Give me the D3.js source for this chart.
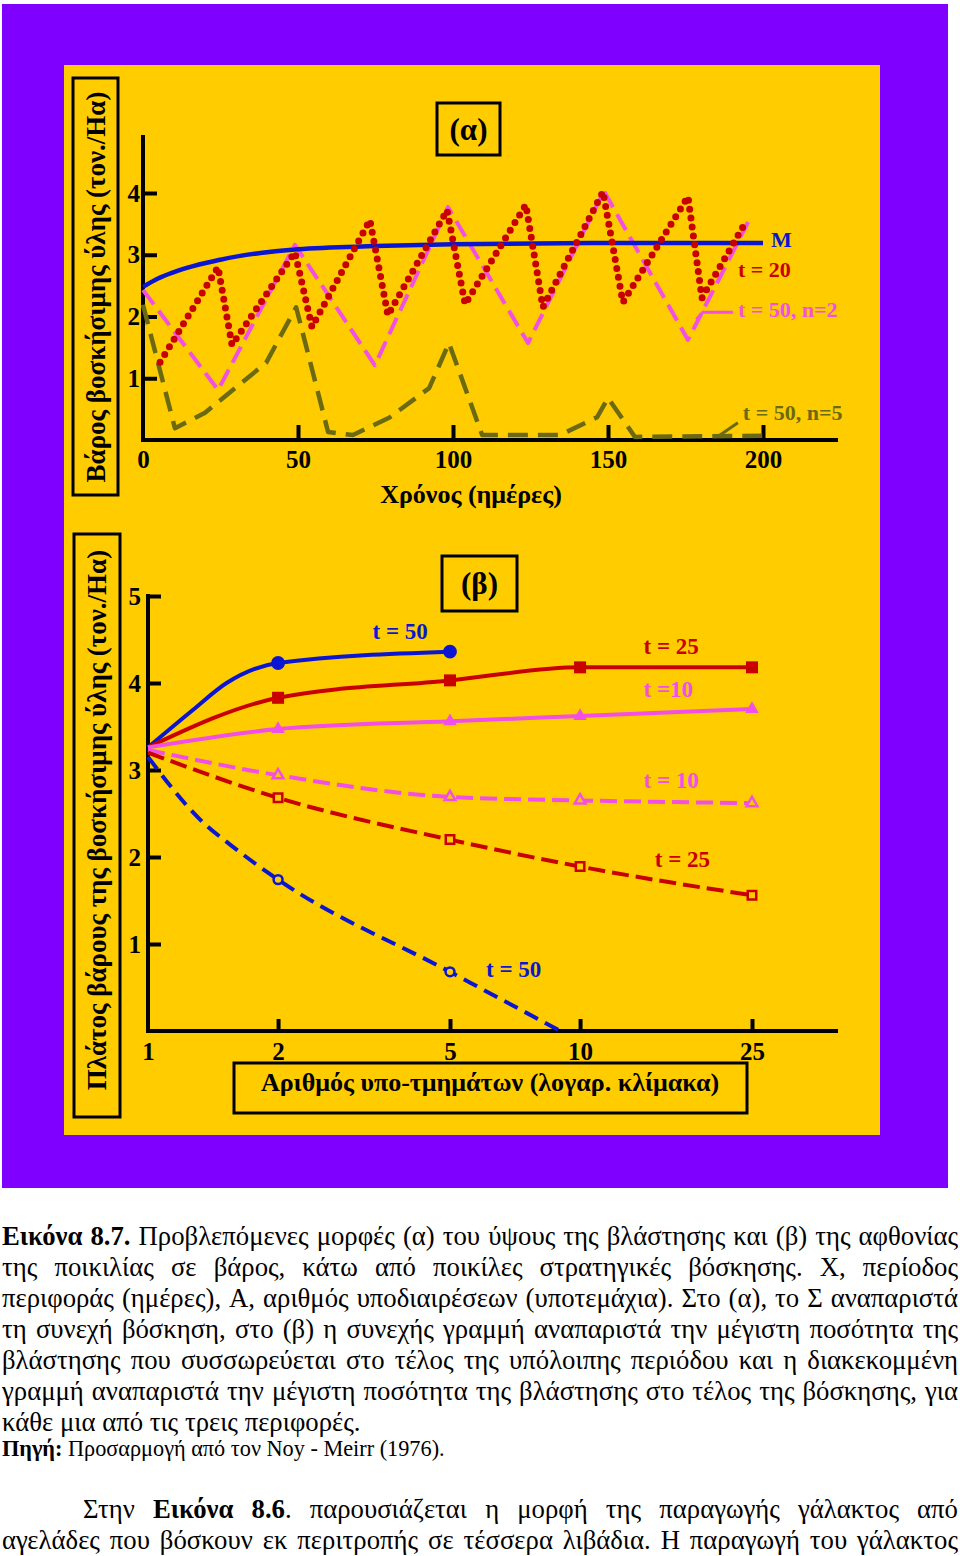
<!DOCTYPE html>
<html>
<head>
<meta charset="utf-8">
<script src="https://cdnjs.cloudflare.com/ajax/libs/d3/7.8.5/d3.min.js"></script>
<style>
  html, body { margin: 0; padding: 0; background: #fff; }
  svg { display: block; }
</style>
</head>
<body>
<div id="chart"></div>
<script>
// ---- data ----
// (α) standing crop, days vs ton/Ha
var daysTicks = [0, 50, 100, 150, 200];
var cropTicks = [1, 2, 3, 4];
var seriesM = [[0, 2.48], [5, 2.62], [10, 2.72], [25, 2.92], [50, 3.09], [75, 3.14], [100, 3.17], [150, 3.19], [200, 3.19]];
var seriesT20 = [[5.5, 1.26], [24.2, 2.80], [28.7, 1.54], [49.0, 3.04], [54.5, 1.83], [73.2, 3.56], [79.0, 2.02], [98.1, 3.72],
                 [103.9, 2.20], [123.5, 3.81], [129.0, 2.15], [148.4, 4.02], [154.8, 2.23], [175.8, 3.94], [180.3, 2.30], [194.2, 3.51]];
var seriesT50n2 = [[0, 2.43], [24.2, 0.81], [49.0, 3.16], [74.8, 1.21], [98.4, 3.77], [124.2, 1.57], [148.7, 4.03], [175.8, 1.62], [195.2, 3.53]];
var seriesT50n5 = [[0, 2.19], [10.3, 0.19], [20, 0.44], [39.7, 1.25], [49.4, 2.15], [59.7, 0.13], [67.7, 0.08], [79.4, 0.36], [92.3, 0.84],
                   [98.7, 1.57], [109.4, 0.08], [134.5, 0.08], [146.5, 0.37], [150, 0.68], [158.7, 0.05], [200, 0.07]];

// (β) amplitude vs number of sub-paddocks (log)
var nTicks = [1, 2, 5, 10, 25];
var ampTicks = [1, 2, 3, 4, 5];
var nAll = [1, 2, 5, 10, 25];
var nBlue = [1, 1.27, 1.52, 2, 5];
var nBlueEnd = [1, 1.32, 1.57, 2, 5, 9];
var blueMax = [3.26, 3.69, 4.00, 4.23, 4.36];             // t = 50, solid
var redMax = [3.26, 3.83, 4.03, 4.18, 4.18];              // t = 25, solid
var pinkMax = [3.26, 3.47, 3.56, 3.62, 3.70];             // t = 10, solid
var pinkEnd = [3.23, 2.94, 2.69, 2.65, 2.62];             // t = 10, dashed
var redEnd = [3.20, 2.68, 2.20, 1.89, 1.56];              // t = 25, dashed
var blueEnd = [3.15, 2.43, 2.12, 1.74, 0.68, 0];          // t = 50, dashed

// caption
var captionLines = [
  "**Εικόνα 8.7.** Προβλεπόμενες μορφές (α) του ύψους της βλάστησης και (β) της αφθονίας",
  "της ποικιλίας σε βάρος, κάτω από ποικίλες στρατηγικές βόσκησης. Χ, περίοδος",
  "περιφοράς (ημέρες), Α, αριθμός υποδιαιρέσεων (υποτεμάχια). Στο (α), το Σ αναπαριστά",
  "τη συνεχή βόσκηση, στο (β) η συνεχής γραμμή αναπαριστά την μέγιστη ποσότητα της",
  "βλάστησης που συσσωρεύεται στο τέλος της υπόλοιπης περιόδου και η διακεκομμένη",
  "γραμμή αναπαριστά την μέγιστη ποσότητα της βλάστησης στο τέλος της βόσκησης, για",
  "κάθε μια από τις τρεις περιφορές."
];
var sourceLine = "**Πηγή:** Προσαρμογή από τον Noy - Meirr (1976).";
var textLines = [
  "Στην **Εικόνα 8.6**. παρουσιάζεται η μορφή της παραγωγής γάλακτος από",
  "αγελάδες που βόσκουν εκ περιτροπής σε τέσσερα λιβάδια. Η παραγωγή του γάλακτος"
];

// ---- styles ----
var FONT = "'Liberation Serif', 'Times New Roman', serif";
var PURPLE = "#8000ff", YELLOW = "#ffcc00";
var BLUE = "#0a16d2", RED = "#c80000", PINK = "#f24fe4", OLIVE = "#6b6a12";

var svg = d3.select("#chart").append("svg")
    .attr("width", 960).attr("height", 1556)
    .style("font-family", FONT);

svg.append("rect").attr("x", 2).attr("y", 4).attr("width", 946).attr("height", 1184).attr("fill", PURPLE);
svg.append("rect").attr("x", 64).attr("y", 65).attr("width", 816).attr("height", 1070).attr("fill", YELLOW);

function boxLabel(x, y, w, h) {
    svg.append("rect").attr("x", x).attr("y", y).attr("width", w).attr("height", h)
        .attr("fill", "none").attr("stroke", "#000").attr("stroke-width", 3);
}

function styleAxis(g, size) {
    g.select(".domain").remove();
    g.selectAll(".tick line").attr("stroke", "#000").attr("stroke-width", 4);
    g.selectAll(".tick text").attr("fill", "#000").style("font-family", FONT)
        .style("font-size", size + "px").style("font-weight", "bold");
}

// ================= (α) =================
var xA = d3.scaleLinear().domain([0, 200]).range([143, 763]);
var yA = d3.scaleLinear().domain([0, 4]).range([440, 193]);

var gxA = svg.append("g").attr("transform", "translate(0," + yA(0) + ")")
    .call(d3.axisBottom(xA).tickValues(daysTicks).tickSizeInner(-15).tickSizeOuter(0).tickPadding(10).tickFormat(d3.format("d")));
styleAxis(gxA, 25);
gxA.selectAll(".tick").filter(function (d) { return d === 0; }).select("line").remove();

var gyA = svg.append("g").attr("transform", "translate(" + xA(0) + ",0)")
    .call(d3.axisLeft(yA).tickValues(cropTicks).tickSizeInner(-14).tickSizeOuter(0).tickPadding(3).tickFormat(d3.format("d")));
styleAxis(gyA, 25);

// axis lines
svg.append("line").attr("x1", xA(0) - 2).attr("x2", 838).attr("y1", yA(0)).attr("y2", yA(0)).attr("stroke", "#000").attr("stroke-width", 4);
svg.append("line").attr("x1", xA(0)).attr("x2", xA(0)).attr("y1", 135).attr("y2", yA(0) + 2).attr("stroke", "#000").attr("stroke-width", 4);

var lineA = d3.line().x(function (d) { return xA(d[0]); }).y(function (d) { return yA(d[1]); });

svg.append("path").datum(seriesT50n5).attr("d", lineA).attr("fill", "none")
    .attr("stroke", OLIVE).attr("stroke-width", 4.5).attr("stroke-dasharray", "20 10").attr("stroke-linejoin", "round");
svg.append("path").datum(seriesT50n2).attr("d", lineA).attr("fill", "none")
    .attr("stroke", PINK).attr("stroke-width", 4).attr("stroke-dasharray", "18 8").attr("stroke-linejoin", "round");
svg.append("path").datum(seriesM).attr("d", lineA.curve(d3.curveMonotoneX)).attr("fill", "none")
    .attr("stroke", BLUE).attr("stroke-width", 4.5);
lineA.curve(d3.curveLinear);
svg.append("path").datum(seriesT20).attr("d", lineA).attr("fill", "none")
    .attr("stroke", RED).attr("stroke-width", 7).attr("stroke-dasharray", "0 9").attr("stroke-linecap", "round");

// leader lines
svg.append("path").datum([[178.5, 1.95], [180.6, 2.07], [190.3, 2.07]]).attr("d", lineA)
    .attr("fill", "none").attr("stroke", PINK).attr("stroke-width", 3);
svg.append("path").datum([[185.2, 0.05], [191.9, 0.28]]).attr("d", lineA)
    .attr("fill", "none").attr("stroke", OLIVE).attr("stroke-width", 3);

var labelsA = [
    {t: "M", d: 202.6, v: 3.125, c: BLUE},
    {t: "t = 20", d: 191.9, v: 2.64, c: RED},
    {t: "t = 50, n=2", d: 191.9, v: 1.99, c: PINK},
    {t: "t = 50, n=5", d: 193.5, v: 0.32, c: OLIVE}
];
svg.selectAll(".labA").data(labelsA).enter().append("text")
    .attr("x", function (d) { return xA(d.d); }).attr("y", function (d) { return yA(d.v); })
    .attr("fill", function (d) { return d.c; })
    .style("font-size", "22px").style("font-weight", "bold")
    .text(function (d) { return d.t; });

// title boxes
boxLabel(437, 103, 63, 52);
svg.append("text").attr("x", 468.5).attr("y", 140).attr("text-anchor", "middle")
    .style("font-size", "31px").style("font-weight", "bold").text("(α)");
svg.append("text").attr("x", 471).attr("y", 503).attr("text-anchor", "middle")
    .style("font-size", "26px").style("font-weight", "bold").text("Χρόνος (ημέρες)");
boxLabel(73, 78, 45, 417);
svg.append("text").attr("transform", "translate(105,287) rotate(-90)").attr("text-anchor", "middle")
    .style("font-size", "27px").style("font-weight", "bold").text("Βάρος βοσκήσιμης ύλης (τον./Ηα)");

// ================= (β) =================
var xB = d3.scaleLog().domain([1, 25]).range([148, 752]);
var yB = d3.scaleLinear().domain([0, 5]).range([1031, 596]);

var gxB = svg.append("g").attr("transform", "translate(0," + yB(0) + ")")
    .call(d3.axisBottom(xB).tickValues(nTicks).tickSizeInner(-12).tickSizeOuter(0).tickPadding(11).tickFormat(d3.format("d")));
styleAxis(gxB, 25);
gxB.selectAll(".tick").filter(function (d) { return d === 1; }).select("line").remove();

var gyB = svg.append("g").attr("transform", "translate(" + xB(1) + ",0)")
    .call(d3.axisLeft(yB).tickValues(ampTicks).tickSizeInner(-13).tickSizeOuter(0).tickPadding(7).tickFormat(d3.format("d")));
styleAxis(gyB, 25);

svg.append("line").attr("x1", xB(1) - 2).attr("x2", 838).attr("y1", yB(0)).attr("y2", yB(0)).attr("stroke", "#000").attr("stroke-width", 4);
svg.append("line").attr("x1", xB(1)).attr("x2", xB(1)).attr("y1", yB(5) - 2).attr("y2", yB(0) + 2).attr("stroke", "#000").attr("stroke-width", 4);

var lineB = d3.line().x(function (d) { return xB(d[0]); }).y(function (d) { return yB(d[1]); }).curve(d3.curveMonotoneX);

var seriesB = [
    {n: nBlue, v: blueMax, c: BLUE, dash: null, sym: d3.symbolCircle, size: 150, open: false},
    {n: nAll, v: redMax, c: RED, dash: null, sym: d3.symbolSquare, size: 144, open: false},
    {n: nAll, v: pinkMax, c: PINK, dash: null, sym: d3.symbolTriangle, size: 80, open: false},
    {n: nAll, v: pinkEnd, c: PINK, dash: "17 7", sym: d3.symbolTriangle, size: 50, open: true},
    {n: nAll, v: redEnd, c: RED, dash: "17 7", sym: d3.symbolSquare, size: 72, open: true},
    {n: nBlueEnd, v: blueEnd, c: BLUE, dash: "15 8", sym: d3.symbolCircle, size: 62, open: true}
];

seriesB.forEach(function (s) {
    var pts = s.n.map(function (n, i) { return [n, s.v[i]]; });
    svg.append("path").datum(pts).attr("d", lineB).attr("fill", "none")
        .attr("stroke", s.c).attr("stroke-width", 4)
        .attr("stroke-dasharray", s.dash);
    // markers only on the tick values, not at n = 1 nor where the line hits zero
    var mk = pts.filter(function (d) { return d[0] !== 1 && nTicks.indexOf(d[0]) >= 0 && d[1] > 0; });
    svg.selectAll(null).data(mk).enter().append("path")
        .attr("transform", function (d) { return "translate(" + xB(d[0]) + "," + yB(d[1]) + ")"; })
        .attr("d", d3.symbol().type(s.sym).size(s.size))
        .attr("fill", s.open ? YELLOW : s.c)
        .attr("stroke", s.c).attr("stroke-width", s.open ? 2.5 : 0);
});

var labelsB = [
    {t: "t = 50", n: 3.31, v: 4.506, c: BLUE},
    {t: "t = 25", n: 14.03, v: 4.333, c: RED},
    {t: "t =10", n: 14.03, v: 3.839, c: PINK},
    {t: "t = 10", n: 14.03, v: 2.793, c: PINK},
    {t: "t = 25", n: 14.89, v: 1.885, c: RED},
    {t: "t = 50", n: 6.06, v: 0.621, c: BLUE}
];
svg.selectAll(".labB").data(labelsB).enter().append("text")
    .attr("x", function (d) { return xB(d.n); }).attr("y", function (d) { return yB(d.v); })
    .attr("fill", function (d) { return d.c; })
    .style("font-size", "23px").style("font-weight", "bold")
    .text(function (d) { return d.t; });

boxLabel(442, 556, 75, 55);
svg.append("text").attr("x", 479.5).attr("y", 594).attr("text-anchor", "middle")
    .style("font-size", "31px").style("font-weight", "bold").text("(β)");
boxLabel(234, 1063, 513, 50);
svg.append("text").attr("x", 490).attr("y", 1091).attr("text-anchor", "middle")
    .style("font-size", "26px").style("font-weight", "bold").text("Αριθμός υπο-τμημάτων (λογαρ. κλίμακα)");
boxLabel(74, 534, 46, 583);
svg.append("text").attr("transform", "translate(106,820) rotate(-90)").attr("text-anchor", "middle")
    .style("font-size", "27px").style("font-weight", "bold").text("Πλάτος βάρους της βοσκήσιμης ύλης (τον./Ηα)");

// ================= caption (justified) =================
var COND = 0.99; // horizontal squeeze of the scanned type

function textLine(str, x0, x1, baseline, size, justify) {
    var g = svg.append("g").attr("transform", "translate(" + x0 + "," + baseline + ") scale(" + COND + ",1)");
    var avail = (x1 - x0) / COND;
    var bold = false;
    var nodes = [];
    str.split(" ").forEach(function (w) {
        var t = g.append("text").style("font-size", size + "px").attr("fill", "#000");
        w.split("**").forEach(function (part, i) {
            if (i > 0) bold = !bold;
            if (part.length) t.append("tspan").style("font-weight", bold ? "bold" : "normal").text(part);
        });
        nodes.push(t);
    });
    var widths = nodes.map(function (t) { return t.node().getComputedTextLength(); });
    var total = d3.sum(widths);
    var gap = justify && nodes.length > 1 ? (avail - total) / (nodes.length - 1) : size * 0.25;
    var x = 0;
    nodes.forEach(function (t, i) {
        t.attr("x", x);
        x += widths[i] + gap;
    });
}

captionLines.forEach(function (l, i) {
    textLine(l, 2, 958, 1245 + i * 31, 27, i < captionLines.length - 1);
});
textLine(sourceLine, 2, 958, 1456, 22.5, false);
textLine(textLines[0], 83, 958, 1518, 27, true);
textLine(textLines[1], 2, 958, 1549, 27, true);
</script>
</body>
</html>
